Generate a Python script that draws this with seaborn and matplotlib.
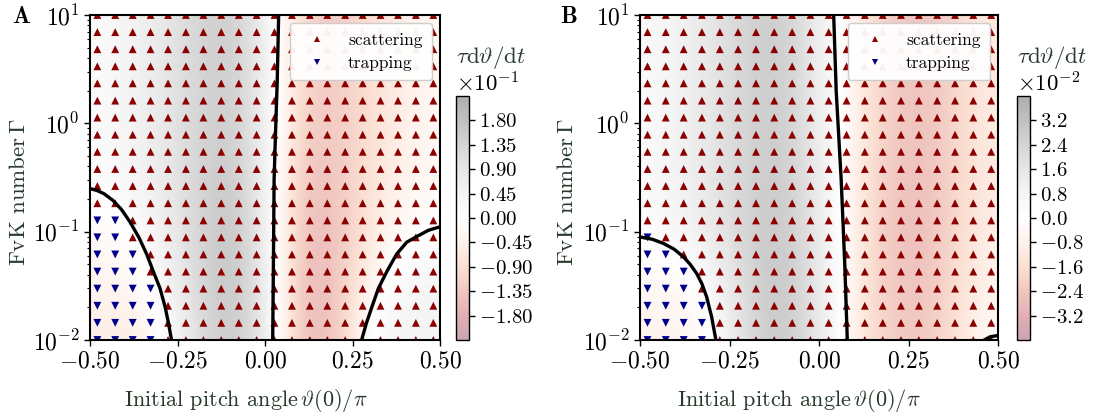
import numpy as np
import pandas as pd
import matplotlib
matplotlib.use("Agg")
import matplotlib.pyplot as plt
import seaborn as sns
from matplotlib.colors import ListedColormap
from matplotlib.ticker import ScalarFormatter

# ---------------- data ----------------
# initial pitch angle grid (units of pi) and FvK number grid
theta0 = [-0.479, -0.428, -0.378, -0.327, -0.277, -0.226, -0.176, -0.125, -0.075, -0.024,
          0.027, 0.077, 0.128, 0.178, 0.229, 0.279, 0.330, 0.380, 0.431, 0.481]
gamma = [0.01, 0.0144, 0.0207, 0.0298, 0.0428, 0.0616, 0.0886, 0.127, 0.183, 0.264,
         0.379, 0.546, 0.785, 1.13, 1.62, 2.34, 3.36, 4.83, 6.95, 10.0]

# number of leading (left-most) columns that end in trapping, per row from bottom
trap_cols_A = [4, 4, 4, 4, 3, 3, 2, 2] + [0] * 12
trap_cols_B = [4, 4, 4, 3, 3, 2, 1] + [0] * 13

# background field tau*dtheta/dt, sampled on a coarse grid
field_x = [-0.5, -0.4, -0.3, -0.2, -0.1, 0.0, 0.1, 0.2, 0.3, 0.4, 0.5]
field_log10_gamma = [-2.0, -1.5, -1.0, -0.5, 0.0, 0.5, 1.0]
field_A = [
    [-0.05, -0.07, -0.02, 0.10, 0.17, 0.09, -0.15, -0.15, 0.02, 0.05, 0.04],
    [-0.03, -0.04, 0.02, 0.12, 0.18, 0.09, -0.16, -0.15, -0.03, 0.04, 0.04],
    [-0.02, -0.01, 0.05, 0.13, 0.18, 0.08, -0.15, -0.15, -0.07, -0.01, 0.01],
    [0.01, 0.03, 0.07, 0.13, 0.17, 0.07, -0.14, -0.14, -0.08, -0.04, -0.02],
    [0.01, 0.04, 0.08, 0.13, 0.16, 0.07, -0.12, -0.13, -0.09, -0.05, -0.02],
    [0.01, 0.04, 0.08, 0.13, 0.16, 0.07, -0.11, -0.13, -0.09, -0.05, -0.02],
    [0.01, 0.04, 0.08, 0.13, 0.16, 0.07, -0.11, -0.13, -0.09, -0.05, -0.02],
]
field_B = [
    [-0.006, -0.008, -0.002, 0.022, 0.030, 0.016, -0.010, -0.022, -0.024, -0.012, 0.001],
    [-0.004, -0.006, 0.003, 0.024, 0.031, 0.016, -0.010, -0.024, -0.026, -0.014, -0.006],
    [0.001, 0.006, 0.014, 0.025, 0.030, 0.015, -0.010, -0.025, -0.027, -0.016, -0.008],
    [0.003, 0.008, 0.016, 0.025, 0.029, 0.014, -0.010, -0.024, -0.027, -0.017, -0.009],
    [0.003, 0.008, 0.016, 0.025, 0.028, 0.013, -0.009, -0.023, -0.026, -0.017, -0.009],
    [0.003, 0.008, 0.016, 0.025, 0.028, 0.013, -0.009, -0.023, -0.026, -0.017, -0.009],
    [0.003, 0.008, 0.016, 0.025, 0.028, 0.013, -0.009, -0.023, -0.026, -0.017, -0.009],
]
vlim_A = 0.225
vlim_B = 0.040
cticks_A = [-0.18, -0.135, -0.09, -0.045, 0.0, 0.045, 0.09, 0.135, 0.18]
cticks_B = [-0.032, -0.024, -0.016, -0.008, 0.0, 0.008, 0.016, 0.024, 0.032]

# zero-rate boundaries (black curves)
A_curves = [
    ([-0.500, -0.480, -0.460, -0.435, -0.410, -0.385, -0.360, -0.338, -0.318, -0.300, -0.285, -0.276, -0.267],
     [0.250, 0.240, 0.224, 0.195, 0.160, 0.122, 0.088, 0.062, 0.042, 0.030, 0.020, 0.0144, 0.010]),
    ([0.039, 0.035, 0.030, 0.026, 0.024, 0.022],
     [10.0, 2.5, 0.8, 0.3, 0.05, 0.01]),
    ([0.276, 0.290, 0.305, 0.324, 0.350, 0.376, 0.405, 0.433, 0.467, 0.500],
     [0.010, 0.0144, 0.020, 0.030, 0.044, 0.062, 0.080, 0.090, 0.103, 0.111]),
]
B_curves = [
    ([-0.500, -0.495, -0.465, -0.435, -0.405, -0.379, -0.360, -0.342, -0.327, -0.314, -0.300, -0.288],
     [0.089, 0.0887, 0.085, 0.078, 0.069, 0.0587, 0.050, 0.0413, 0.033, 0.0251, 0.0164, 0.010]),
    ([0.041, 0.048, 0.062, 0.072, 0.079],
     [10.0, 2.0, 0.3, 0.05, 0.01]),
    ([0.459, 0.478, 0.492, 0.500],
     [0.0099, 0.0107, 0.0109, 0.0110]),
]
xticks = [-0.5, -0.25, 0.0, 0.25, 0.5]

# ---------------- style ----------------
plt.rcParams.update({
    "font.family": "serif",
    "font.serif": ["cmr10", "DejaVu Serif"],
    "mathtext.fontset": "cm",
    "axes.formatter.use_mathtext": True,
    "axes.unicode_minus": True,
    "axes.linewidth": 1.5,
})
label_color = "#26392b"

# RdGy faded towards white (equivalent to alpha 0.35 over a white page)
_base = plt.get_cmap("RdGy")(np.linspace(0, 1, 256))
_faded = _base.copy()
_faded[:, :3] = 1.0 - 0.35 * (1.0 - _base[:, :3])
faded_cmap = ListedColormap(_faded)


def outcome_frame(trap_cols):
    rows = []
    for i, g in enumerate(gamma):
        for j, t in enumerate(theta0):
            rows.append({"theta": t, "gamma": g,
                         "outcome": "trapping" if j < trap_cols[i] else "scattering"})
    return pd.DataFrame(rows)


def panel(bg, ax, cax, field, vlim, cticks, trap_cols, curves):
    # smooth background on a companion axes whose y coordinate is log10(Gamma)
    dx = field_x[1] - field_x[0]
    dy = field_log10_gamma[1] - field_log10_gamma[0]
    img = bg.imshow(np.array(field), origin="lower", aspect="auto", cmap=faded_cmap,
                    vmin=-vlim, vmax=vlim, interpolation="bicubic",
                    extent=[field_x[0] - dx / 2, field_x[-1] + dx / 2,
                            field_log10_gamma[0] - dy / 2, field_log10_gamma[-1] + dy / 2])
    bg.set_xlim(-0.5, 0.5)
    bg.set_ylim(-2, 1)
    bg.axis("off")

    ax.set_facecolor("none")
    df = outcome_frame(trap_cols)
    sns.scatterplot(data=df, x="theta", y="gamma", hue="outcome", style="outcome",
                    hue_order=["scattering", "trapping"], style_order=["scattering", "trapping"],
                    palette={"scattering": "#8b0000", "trapping": "#00008b"},
                    markers={"scattering": "^", "trapping": "v"},
                    s=32, linewidth=0, ax=ax, zorder=2, legend=True)
    for cx, cy in curves:
        sns.lineplot(x=cx, y=cy, sort=False, estimator=None, color="k", lw=2.4,
                     ax=ax, zorder=3)
    ax.set_yscale("log")
    ax.set_xlim(-0.5, 0.5)
    ax.set_ylim(0.01, 10)
    ax.set_xticks(xticks)
    ax.tick_params(axis="both", which="major", labelsize=17, length=4, width=1.0, direction="out")
    ax.tick_params(axis="y", which="minor", length=2.5, width=0.8)
    ax.set_xlabel(r"Initial pitch angle$\,\vartheta(0)/\pi$", fontsize=16, color=label_color)
    ax.set_ylabel(r"FvK number$\,\Gamma$", fontsize=16.5, color=label_color)
    ax.xaxis.set_label_coords(0.445, -0.145)
    ax.yaxis.set_label_coords(-0.175, 0.455)
    sns.move_legend(ax, "upper right", title=None, fontsize=12.5, markerscale=0.75,
                    frameon=True, framealpha=0.95, borderaxespad=0.45, labelspacing=0.45,
                    borderpad=0.55)
    cb = ax.figure.colorbar(img, cax=cax)
    cb.set_ticks(cticks)
    fmt = ScalarFormatter(useMathText=True)
    fmt.set_powerlimits((0, 0))
    cb.formatter = fmt
    cb.update_ticks()
    cb.ax.tick_params(labelsize=15, length=4, width=1.0)
    cb.ax.yaxis.set_offset_position("left")
    cb.ax.yaxis.get_offset_text().set_fontsize(16.5)
    cb.outline.set_linewidth(1.0)
    cb.ax.set_title(r"$\tau\mathrm{d}\vartheta/\mathrm{d}t$", loc="left", fontsize=16.5,
                    color=label_color, pad=2)
    return cb


fig = plt.figure(figsize=(10.99, 4.18), dpi=100)
W, H = 1099.0, 418.0
rectA = [90 / W, 78 / H, 350 / W, 325 / H]
rectB = [640 / W, 78 / H, 358 / W, 325 / H]
bgA = fig.add_axes(rectA)
bgB = fig.add_axes(rectB)
axA = fig.add_axes(rectA)
axB = fig.add_axes(rectB)
caxA = fig.add_axes([456 / W, 78 / H, 13 / W, 244 / H])
caxB = fig.add_axes([1017 / W, 78 / H, 13 / W, 244 / H])

panel(bgA, axA, caxA, field_A, vlim_A, cticks_A, trap_cols_A, A_curves)
panel(bgB, axB, caxB, field_B, vlim_B, cticks_B, trap_cols_B, B_curves)

fig.text(12 / W, 1 - 23 / H, r"$\mathbf{A}$", fontsize=17)
fig.text(560 / W, 1 - 23 / H, r"$\mathbf{B}$", fontsize=17)

fig.savefig("out.png", dpi=100)
